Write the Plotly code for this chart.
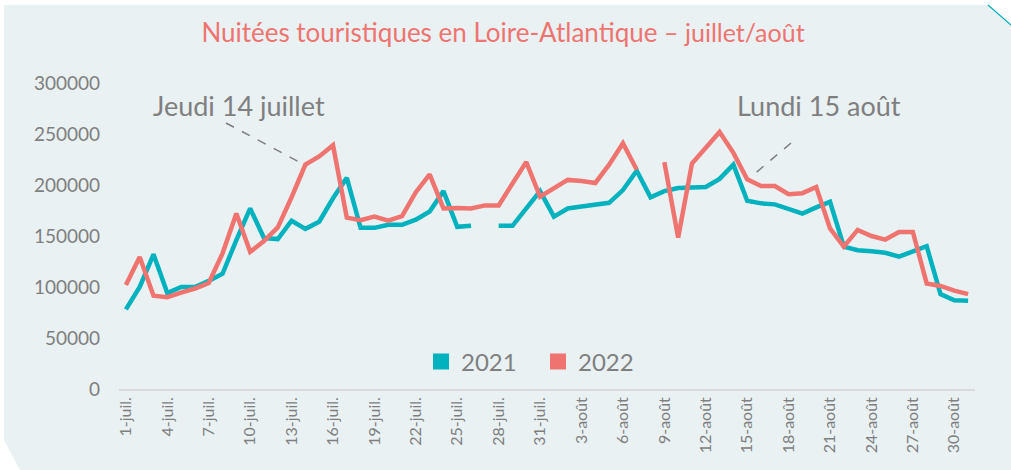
import plotly.graph_objects as go

# ---------------- data ----------------
days_juil = [f"{d}-juil." for d in range(1, 32)]
days_aout = [f"{d}-août" for d in range(1, 32)]
dates = days_juil + days_aout

nuitees_2021 = [
    78000, 100000, 132000, 94000, 100000, 100000, 106000, 113000, 146000, 177000,
    148000, 147000, 165000, 157000, 164000, 187000, 207000, 158000, 158000, 161000,
    161000, 166000, 174000, 194000, 159000, 160000, None, 160000, 160000, 177000,
    194000, 169000, 177000, 179000, 181000, 182500, 195000, 214000, 188000, 194000,
    197000, 198000, 198000, 206000, 220000, 184500, 182000, 181000, 177000, 172000,
    178000, 183500, 139500, 136000, 135000, 133500, 129700, 135000, 140000, 93000,
    87000, 86500,
]
nuitees_2022 = [
    102000, 129500, 91500, 90000, 94500, 98500, 104000, 133000, 172000, 134500,
    145000, 158500, 188000, 220000, 228000, 239000, 168000, 165500, 169000, 165000,
    169500, 193000, 210500, 177000, 177500, 177000, 180000, 180000, 201500, 222500,
    188500, 196500, 205000, 204000, 202000, 220000, 241000, 215000, None, 222500,
    148500, 221000, 236000, 252000, 231500, 205500, 199000, 199000, 191000, 192000,
    198000, 157500, 139500, 156000, 150000, 146500, 154000, 154000, 103500, 101000,
    96500, 93000,
]
series_names = ["2021", "2022"]
tick_labels = dates[::3]
y_ticks = [0, 50000, 100000, 150000, 200000, 250000, 300000]

title_main = "Nuitées touristiques en Loire-Atlantique"
title_end = "– juillet/août"
note_1 = "Jeudi 14 juillet"
note_2 = "Lundi 15 août"

# ---------------- style ----------------
TEAL = "#00B1BE"
CORAL = "#EF7470"
GREY = "#7F7F7F"
BG = "#E9F1F3"
FONT = "Lato, 'Open Sans', sans-serif"

W, H = 1011, 470
L, R, T, B = 119, 36, 83, 81
PW, PH = W - L - R, H - T - B


def px(x):
    return (x - L) / PW


def py(y):
    return (H - B - y) / PH


fig = go.Figure()
for name, vals, col in [(series_names[0], nuitees_2021, TEAL),
                        (series_names[1], nuitees_2022, CORAL)]:
    fig.add_trace(go.Scatter(
        x=dates, y=vals, name=name, mode="lines",
        line=dict(color=col, width=4.5), connectgaps=False,
        showlegend=False, hoverinfo="x+y+name",
    ))
    # legend swatch (square)
    fig.add_trace(go.Scatter(
        x=[None], y=[None], name=name, mode="markers",
        marker=dict(symbol="square", size=20, color=col),
        showlegend=True,
    ))

# background panel with cut corners
poly = [(4, 5), (988, 5), (1011, 25), (1011, 470), (20, 470), (4, 440)]
path = "M " + " L ".join(f"{px(a):.5f},{py(b):.5f}" for a, b in poly) + " Z"
shapes = [
    dict(type="path", xref="paper", yref="paper", path=path,
         fillcolor=BG, line=dict(width=0), layer="below"),
    dict(type="line", xref="paper", yref="paper",
         x0=px(988), y0=py(5), x1=px(1011), y1=py(25),
         line=dict(color=TEAL, width=1.2)),
    dict(type="line", xref="paper", yref="paper",
         x0=px(226), y0=py(123), x1=px(301), y1=py(163),
         line=dict(color=GREY, width=1.5, dash="dash")),
    dict(type="line", xref="paper", yref="paper",
         x0=px(791), y0=py(143), x1=px(752), y1=py(176),
         line=dict(color=GREY, width=1.5, dash="dash")),
]

annotations = [
    dict(text=note_1, xref="paper", yref="paper", x=px(239), y=py(106),
         showarrow=False, font=dict(family=FONT, size=27, color=GREY),
         xanchor="center", yanchor="middle"),
    dict(text=note_2, xref="paper", yref="paper", x=px(819), y=py(106),
         showarrow=False, font=dict(family=FONT, size=27, color=GREY),
         xanchor="center", yanchor="middle"),
]

fig.update_layout(
    width=W, height=H,
    margin=dict(l=L, r=R, t=T, b=B),
    paper_bgcolor="white",
    plot_bgcolor="rgba(0,0,0,0)",
    font=dict(family=FONT, color=GREY),
    title=dict(
        text=f"{title_main} <span style='font-size:25px'>{title_end}</span>",
        x=503 / W, xanchor="center", y=1 - 33 / H, yanchor="middle",
        font=dict(family=FONT, size=26, color=CORAL),
    ),
    shapes=shapes,
    annotations=annotations,
    legend=dict(
        orientation="h", x=px(421), y=py(362), xanchor="left", yanchor="middle",
        bgcolor="rgba(0,0,0,0)", font=dict(family=FONT, size=24, color=GREY),
        itemwidth=30, tracegroupgap=0, entrywidth=72, entrywidthmode="pixels",
    ),
    xaxis=dict(
        type="category", categoryorder="array", categoryarray=dates,
        range=[-0.5, len(dates) - 0.5],
        tickmode="array", tickvals=tick_labels, ticktext=tick_labels,
        tickangle=-90, tickfont=dict(family=FONT, size=16, color=GREY),
        showgrid=False, zeroline=False, showline=True,
        linecolor="#D9D9D9", linewidth=1.5, ticks="", fixedrange=True,
        automargin=False,
    ),
    yaxis=dict(
        range=[0, 300000], tickmode="array", tickvals=y_ticks,
        ticktext=[str(v) for v in y_ticks],
        tickfont=dict(family=FONT, size=19, color=GREY),
        showgrid=False, zeroline=False, showline=False, ticks="",
        ticklabelstandoff=18, fixedrange=True, automargin=False,
    ),
    showlegend=True,
)

fig.write_html(
    "out.html",
    config={"displayModeBar": False},
    post_script="document.body.style.margin='0';document.body.style.padding='0';",
)
